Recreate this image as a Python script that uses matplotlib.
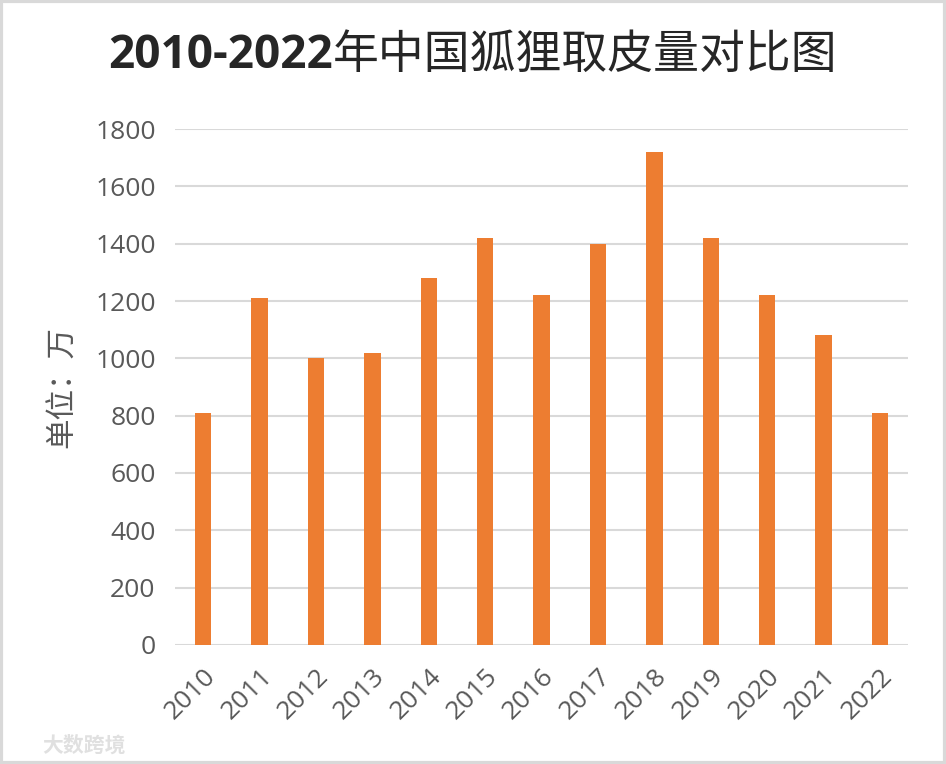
import matplotlib
matplotlib.use("Agg")
import matplotlib.pyplot as plt
from matplotlib.patches import Rectangle

plt.rcParams["font.family"] = ["Open Sans", "Noto Sans CJK SC", "DejaVu Sans"]

years = ["2010", "2011", "2012", "2013", "2014", "2015", "2016",
         "2017", "2018", "2019", "2020", "2021", "2022"]
skins = [810, 1210, 1000, 1020, 1280, 1420, 1220, 1400, 1720, 1420, 1220, 1080, 810]
yticks = [0, 200, 400, 600, 800, 1000, 1200, 1400, 1600, 1800]

fig = plt.figure(figsize=(9.46, 7.64), dpi=100)
ax = fig.add_axes([0.185, 0.156, 0.775, 0.675])

x = list(range(len(years)))
ax.bar(x, skins, width=0.29, color="#ED7D31", zorder=3)

ax.set_xlim(-0.5, len(years) - 0.5)
ax.set_ylim(0, 1800)
ax.set_yticks(yticks)
ax.set_yticklabels([str(v) for v in yticks])
ax.set_xticks(x)
ax.set_xticklabels(years, rotation=45, ha="right", va="top",
                   rotation_mode="anchor")
ax.tick_params(axis="both", length=0, labelsize=19, colors="#595959")
ax.tick_params(axis="y", pad=14)
ax.tick_params(axis="x", pad=14)
ax.grid(axis="y", color="#d9d9d9", linewidth=1.5, zorder=0)
for s in ax.spines.values():
    s.set_visible(False)

ax.set_ylabel("单位：万", fontsize=22, color="#595959",
              family=["Noto Sans CJK SC", "DejaVu Sans"], labelpad=12)

# title: bold years + light Chinese, centred together
t1 = fig.text(0, 0.928, "2010-2022", fontsize=33, fontweight="bold",
              color="#262626", ha="left", va="center")
t2 = fig.text(0, 0.928, "年中国狐狸取皮量对比图", fontsize=33,
              color="#262626", ha="left", va="center", fontweight="light",
              family=["Noto Sans CJK SC", "DejaVu Sans"])
fig.canvas.draw()
w1 = t1.get_window_extent().width / fig.bbox.width
w2 = t2.get_window_extent().width / fig.bbox.width
start = 0.5 - (w1 + w2) / 2
t1.set_x(start)
t2.set_x(start + w1)

# watermark
fig.text(0.045, 0.025, "大数跨境", fontsize=15, color="#e0e0e0",
         fontweight="bold", family=["Noto Sans CJK SC", "DejaVu Sans"],
         ha="left", va="center")

fig.patches.append(Rectangle((0.001, 0.001), 0.998, 0.998, transform=fig.transFigure,
                             fill=False, edgecolor="#d9d9d9", linewidth=3))

fig.savefig("out.png", dpi=100)
